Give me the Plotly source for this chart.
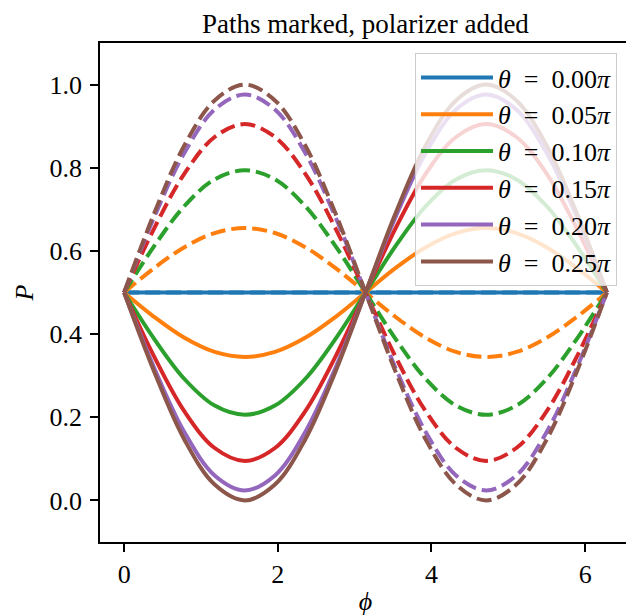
import plotly.graph_objects as go

# phi sample positions (radians)
PHI = [0.000, 0.393, 0.785, 1.178, 1.571, 1.963, 2.356, 2.749, 3.142,
       3.534, 3.927, 4.320, 4.712, 5.105, 5.498, 5.890, 6.283]

THETA_LABELS = ["0.00", "0.05", "0.10", "0.15", "0.20", "0.25"]
COLORS = ["#1f77b4", "#ff7f0e", "#2ca02c", "#d62728", "#9467bd", "#8c564b"]

# solid curves
P_000 = [0.500, 0.500, 0.500, 0.500, 0.500, 0.500, 0.500, 0.500, 0.500,
         0.500, 0.500, 0.500, 0.500, 0.500, 0.500, 0.500, 0.500]
P_005 = [0.500, 0.441, 0.391, 0.357, 0.345, 0.357, 0.391, 0.441, 0.500,
         0.559, 0.609, 0.643, 0.655, 0.643, 0.609, 0.559, 0.500]
P_010 = [0.500, 0.388, 0.292, 0.228, 0.206, 0.228, 0.292, 0.388, 0.500,
         0.612, 0.708, 0.772, 0.794, 0.772, 0.708, 0.612, 0.500]
P_015 = [0.500, 0.345, 0.214, 0.126, 0.095, 0.126, 0.214, 0.345, 0.500,
         0.655, 0.786, 0.874, 0.905, 0.874, 0.786, 0.655, 0.500]
P_020 = [0.500, 0.318, 0.164, 0.060, 0.024, 0.060, 0.164, 0.318, 0.500,
         0.682, 0.836, 0.940, 0.976, 0.940, 0.836, 0.682, 0.500]
P_025 = [0.500, 0.309, 0.146, 0.038, 0.000, 0.038, 0.146, 0.309, 0.500,
         0.691, 0.854, 0.962, 1.000, 0.962, 0.854, 0.691, 0.500]

# dashed curves
Q_000 = [0.500, 0.500, 0.500, 0.500, 0.500, 0.500, 0.500, 0.500, 0.500,
         0.500, 0.500, 0.500, 0.500, 0.500, 0.500, 0.500, 0.500]
Q_005 = [0.500, 0.559, 0.609, 0.643, 0.655, 0.643, 0.609, 0.559, 0.500,
         0.441, 0.391, 0.357, 0.345, 0.357, 0.391, 0.441, 0.500]
Q_010 = [0.500, 0.612, 0.708, 0.772, 0.794, 0.772, 0.708, 0.612, 0.500,
         0.388, 0.292, 0.228, 0.206, 0.228, 0.292, 0.388, 0.500]
Q_015 = [0.500, 0.655, 0.786, 0.874, 0.905, 0.874, 0.786, 0.655, 0.500,
         0.345, 0.214, 0.126, 0.095, 0.126, 0.214, 0.345, 0.500]
Q_020 = [0.500, 0.682, 0.836, 0.940, 0.976, 0.940, 0.836, 0.682, 0.500,
         0.318, 0.164, 0.060, 0.024, 0.060, 0.164, 0.318, 0.500]
Q_025 = [0.500, 0.691, 0.854, 0.962, 1.000, 0.962, 0.854, 0.691, 0.500,
         0.309, 0.146, 0.038, 0.000, 0.038, 0.146, 0.309, 0.500]

SOLID = [P_000, P_005, P_010, P_015, P_020, P_025]
DASHED = [Q_000, Q_005, Q_010, Q_015, Q_020, Q_025]

X_TICKS = [0, 2, 4, 6]
Y_TICKS = [0.0, 0.2, 0.4, 0.6, 0.8, 1.0]

TITLE = "Paths marked, polarizer added"
FONT = "Liberation Serif"
SP = "\u2002"

fig = go.Figure()
for lab, col, ys, yd in zip(THETA_LABELS, COLORS, SOLID, DASHED):
    fig.add_trace(go.Scatter(
        x=PHI, y=ys, mode="lines", line=dict(color=col, width=4, shape="spline"),
        name=f"<i>θ</i>{SP}={SP}{lab}<i>π</i>", showlegend=True))
    fig.add_trace(go.Scatter(
        x=PHI, y=yd, mode="lines",
        line=dict(color=col, width=4, shape="spline", dash="15px,6px"),
        showlegend=False))

# page body has an 8px margin, so the figure is drawn 8px smaller
W, H = 626, 608
ML, MR, MT, MB = 92, 3, 35, 74
fig.update_layout(
    width=W, height=H,
    margin=dict(l=ML, r=MR, t=MT, b=MB, autoexpand=False),
    plot_bgcolor="white", paper_bgcolor="white",
    font=dict(family=FONT, size=26, color="black"),
    legend=dict(x=0.9736, y=0.98, xanchor="right", yanchor="top",
                bgcolor="rgba(255,255,255,0.8)", bordercolor="#cccccc",
                borderwidth=1, font=dict(family=FONT, size=26),
                itemwidth=72),
    showlegend=True,
)
fig.add_annotation(
    text=TITLE, xref="paper", yref="paper", x=0.5,
    y=1 + MT / (H - MT - MB), xanchor="center", yanchor="top",
    showarrow=False, borderpad=0, font=dict(family=FONT, size=27),
)
fig.update_xaxes(
    range=[-0.314, 6.597], tickvals=X_TICKS, ticktext=[str(v) for v in X_TICKS],
    showgrid=False, zeroline=False, showline=True, mirror=True, automargin=False,
    linecolor="black", linewidth=1.5, ticks="outside", ticklen=8, tickwidth=1.5,
    tickcolor="black", ticklabelstandoff=0,
    title=dict(text="<i>\u03d5</i>", standoff=8, font=dict(size=26)),
)
fig.update_yaxes(
    range=[-0.1, 1.1], tickvals=Y_TICKS, ticktext=[f"{v:.1f}" for v in Y_TICKS],
    showgrid=False, zeroline=False, showline=True, mirror=True, automargin=False,
    linecolor="black", linewidth=1.5, ticks="outside", ticklen=8, tickwidth=1.5,
    tickcolor="black", ticklabelstandoff=3,
    title=dict(text="<i>P</i>", standoff=8, font=dict(size=26)),
)

fig.write_html("out.html")
